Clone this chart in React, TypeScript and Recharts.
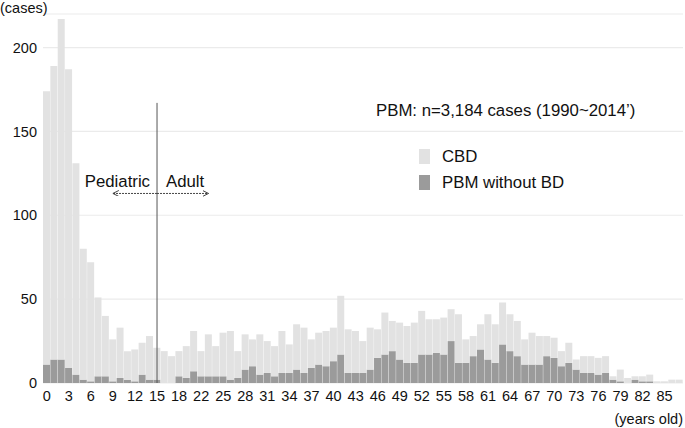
import {
  BarChart,
  Bar,
  XAxis,
  YAxis,
  CartesianGrid,
  Legend,
  ReferenceLine,
} from "recharts";

// age categories (there is no 21 in the source figure's axis)
const ages = [
  "0", "1", "2", "3", "4", "5", "6", "7", "8", "9",
  "10", "11", "12", "13", "14", "15", "16", "17", "18", "19",
  "20", "22", "23", "24", "25", "26", "27", "28", "29", "30",
  "31", "32", "33", "34", "35", "36", "37", "38", "39", "40",
  "41", "42", "43", "44", "45", "46", "47", "48", "49", "50",
  "51", "52", "53", "54", "55", "56", "57", "58", "59", "60",
  "61", "62", "63", "64", "65", "66", "67", "68", "69", "70",
  "71", "72", "73", "74", "75", "76", "77", "78", "79", "80",
  "81", "82", "83", "84", "85", "86", "87",
];

// PBM with congenital biliary dilatation
const cbdCases = [
  163, 175, 203, 178, 126, 78, 71, 47, 36, 25,
  30, 17, 19, 19, 26, 19, 19, 16, 15, 19,
  24, 15, 25, 18, 26, 29, 16, 21, 16, 24,
  19, 18, 25, 17, 27, 27, 17, 19, 21, 20,
  35, 26, 25, 19, 25, 17, 25, 18, 22, 22,
  24, 26, 21, 20, 22, 19, 29, 14, 12, 15,
  27, 23, 25, 22, 21, 15, 19, 17, 12, 12,
  9, 12, 6, 10, 10, 10, 10, 2, 7, 3,
  2, 3, 4, 1, 1, 2, 2,
];

// PBM without biliary dilatation
const nonBdCases = [
  11, 14, 14, 9, 5, 2, 1, 4, 4, 1,
  3, 2, 1, 5, 2, 2, 0, 0, 4, 3,
  7, 4, 4, 4, 4, 2, 3, 8, 10, 5,
  6, 4, 6, 6, 8, 6, 9, 11, 10, 13,
  17, 6, 6, 6, 8, 15, 17, 19, 14, 12,
  12, 17, 17, 18, 17, 25, 12, 12, 16, 20,
  14, 12, 23, 19, 16, 11, 11, 11, 16, 15,
  10, 12, 8, 6, 6, 5, 6, 2, 1, 0,
  2, 1, 1, 0, 0, 0, 0,
];

const yTicks = [0, 50, 100, 150, 200];

const data = ages.map((age, i) => ({
  age,
  cbd: cbdCases[i],
  nonBd: nonBdCases[i],
}));

const LIGHT = "#e2e2e2";
const DARK = "#9b9b9b";
const FONT = '"Liberation Sans", Arial, Helvetica, sans-serif';

const legendItems = [
  { name: "CBD", color: LIGHT },
  { name: "PBM without BD", color: DARK },
];

const LegendBox = () => (
  <div style={{ fontFamily: FONT, color: "#111" }}>
    <div style={{ fontSize: 16.8, lineHeight: "20px", whiteSpace: "nowrap" }}>
      PBM: n=3,184 cases (1990~2014’)
    </div>
    <div style={{ marginTop: 23 }}>
      {legendItems.map((it) => (
        <div
          key={it.name}
          style={{
            position: "relative",
            height: 26,
            lineHeight: "26px",
            fontSize: 16.8,
            paddingLeft: 66,
            whiteSpace: "nowrap",
          }}
        >
          <span
            style={{
              position: "absolute",
              left: 43,
              top: 5,
              width: 11,
              height: 15,
              background: it.color,
            }}
          />
          {it.name}
        </div>
      ))}
    </div>
  </div>
);

const arrowShape = (label: string, side: "left" | "right") => (props: any) => {
  const { x1, y1, x2, y2 } = props;
  const id = "arrow-" + side;
  const tx = side === "left" ? x1 - 7 : x1 + 9;
  return (
    <g>
      <defs>
        <marker
          id={id}
          markerWidth="8"
          markerHeight="8"
          refX="6"
          refY="3"
          orient="auto"
          markerUnits="userSpaceOnUse"
        >
          <path d="M0,0 L6,3 L0,6" fill="none" stroke="#444" strokeWidth="1" />
        </marker>
      </defs>
      <line
        x1={x1}
        y1={y1}
        x2={x2}
        y2={y2}
        stroke="#444"
        strokeWidth={1}
        strokeDasharray="2 1"
        markerEnd={`url(#${id})`}
      />
      <text
        x={tx}
        y={y1 - 6.5}
        textAnchor={side === "left" ? "end" : "start"}
        fontSize={16.8}
        fill="#111"
        fontFamily={FONT}
      >
        {label}
      </text>
    </g>
  );
};

const App = () => {
  return (
    <div style={{ width: 685, height: 428 }}>
      <style>{"body{margin:0}"}</style>
      <BarChart
        width={685}
        height={428}
        data={data}
        barCategoryGap={0}
        margin={{ top: 14, right: 2, left: 0, bottom: 15 }}
        style={{ fontFamily: FONT }}
      >
        <CartesianGrid vertical={false} stroke="#ebebeb" strokeWidth={1.2} />
        <XAxis
          dataKey="age"
          interval={2}
          tickLine={false}
          axisLine={false}
          height={30}
          tick={{ fontSize: 14.5, fill: "#111" }}
          label={(p: any) => {
            const vb = p.viewBox;
            return (
              <text
                x={vb.x + vb.width}
                y={vb.y + 41}
                textAnchor="end"
                fontSize={14.5}
                fill="#111"
                fontFamily={FONT}
              >
                (years old)
              </text>
            );
          }}
        />
        <YAxis
          domain={[0, 220]}
          ticks={yTicks}
          width={43}
          tickLine={false}
          axisLine={false}
          tickSize={4}
          tickMargin={2}
          tick={{ fontSize: 14.5, fill: "#111" }}
          label={(p: any) => {
            const vb = p.viewBox;
            return (
              <text
                x={vb.x}
                y={vb.y - 1}
                textAnchor="start"
                fontSize={14.5}
                fill="#111"
                fontFamily={FONT}
              >
                (cases)
              </text>
            );
          }}
        />
        <Legend
          layout="vertical"
          align="center"
          verticalAlign="middle"
          content={() => <LegendBox />}
          wrapperStyle={{ left: 376, top: 101, width: 300, height: 100 }}
        />
        <Bar
          dataKey="nonBd"
          name="PBM without BD"
          stackId="s"
          fill={DARK}
          isAnimationActive={false}
        />
        <Bar
          dataKey="cbd"
          name="CBD"
          stackId="s"
          fill={LIGHT}
          isAnimationActive={false}
        />
        <ReferenceLine
          segment={[
            { x: "15", y: 0 },
            { x: "15", y: 167 },
          ]}
          stroke="#555"
          strokeWidth={1}
        />
        <ReferenceLine
          segment={[
            { x: "15", y: 113 },
            { x: "9", y: 113 },
          ]}
          shape={arrowShape("Pediatric", "left")}
        />
        <ReferenceLine
          segment={[
            { x: "15", y: 113 },
            { x: "23", y: 113 },
          ]}
          shape={arrowShape("Adult", "right")}
        />
      </BarChart>
    </div>
  );
};

export default App;
